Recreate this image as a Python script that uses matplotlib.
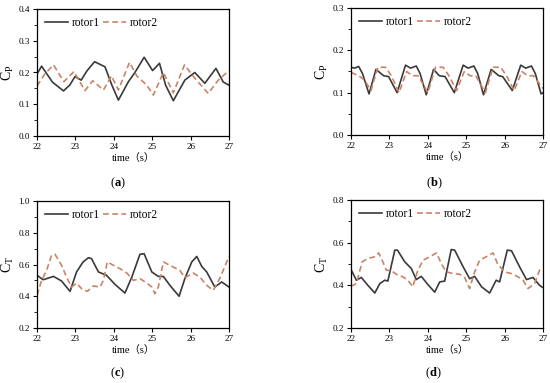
import matplotlib
matplotlib.use("Agg")
import matplotlib.pyplot as plt
from matplotlib.ticker import MultipleLocator

plt.rcParams['font.family'] = ['Liberation Serif', 'Noto Sans CJK SC']
plt.rcParams['mathtext.fontset'] = 'custom'
plt.rcParams['mathtext.rm'] = 'Liberation Serif'
plt.rcParams['mathtext.it'] = 'Liberation Serif:italic'
plt.rcParams['mathtext.bf'] = 'Liberation Serif:bold'

# ---------------- data ----------------
# (a) power coefficient, case a
a_t1 = [22.0, 22.12, 22.4, 22.69, 22.85, 22.99, 23.15, 23.3, 23.5, 23.77, 23.95, 24.12, 24.38, 24.55,
        24.79, 25.01, 25.19, 25.35, 25.55, 25.85, 26.11, 26.37, 26.66, 26.85, 27.0]
a_r1 = [0.195, 0.22, 0.17, 0.142, 0.16, 0.187, 0.176, 0.205, 0.234, 0.218, 0.16, 0.113, 0.171, 0.2,
        0.248, 0.206, 0.229, 0.16, 0.111, 0.176, 0.2, 0.166, 0.213, 0.17, 0.16]
a_t2 = [22.0, 22.2, 22.43, 22.7, 22.96, 23.25, 23.45, 23.73, 23.94, 24.12, 24.41, 24.6, 24.86, 25.03,
        25.29, 25.55, 25.84, 26.11, 26.46, 26.72, 27.0]
a_r2 = [0.157, 0.195, 0.224, 0.171, 0.203, 0.143, 0.174, 0.145, 0.189, 0.145, 0.232, 0.189, 0.16, 0.129,
        0.2, 0.136, 0.224, 0.182, 0.134, 0.176, 0.206]

# (b) power coefficient, case b
b_t1 = [22.0, 22.1, 22.2, 22.3, 22.47, 22.65, 22.85, 22.98, 23.2, 23.42, 23.55, 23.7, 23.8, 23.96,
        24.15, 24.3, 24.45, 24.69, 24.92, 25.05, 25.2, 25.3, 25.45, 25.65, 25.85, 25.95, 26.2,
        26.42, 26.55, 26.7, 26.8, 26.95, 27.0]
b_r1 = [0.16, 0.158, 0.162, 0.145, 0.097, 0.155, 0.14, 0.138, 0.1, 0.165, 0.158, 0.163, 0.145, 0.095,
        0.155, 0.14, 0.138, 0.1, 0.165, 0.158, 0.163, 0.145, 0.095, 0.155, 0.14, 0.138, 0.105,
        0.165, 0.158, 0.163, 0.145, 0.097, 0.1]
b_t2 = [22.0, 22.2, 22.35, 22.52, 22.7, 22.9, 23.05, 23.25, 23.45, 23.6, 23.75, 24.0, 24.2, 24.4,
        24.55, 24.75, 24.95, 25.1, 25.25, 25.5, 25.7, 25.9, 26.05, 26.25, 26.45, 26.6, 26.75, 27.0]
b_r2 = [0.148, 0.14, 0.13, 0.105, 0.16, 0.16, 0.14, 0.1, 0.15, 0.14, 0.14, 0.1, 0.16, 0.16,
        0.14, 0.105, 0.15, 0.14, 0.14, 0.1, 0.16, 0.16, 0.14, 0.105, 0.15, 0.14, 0.14, 0.11]

# (c) thrust coefficient, case a
c_t1 = [22.0, 22.16, 22.43, 22.64, 22.86, 23.03, 23.2, 23.34, 23.42, 23.6, 23.81, 24.03, 24.29, 24.47,
        24.68, 24.79, 24.99, 25.16, 25.29, 25.46, 25.7, 25.85, 26.03, 26.16, 26.29, 26.42, 26.63,
        26.81, 27.0]
c_r1 = [0.532, 0.504, 0.525, 0.496, 0.431, 0.553, 0.616, 0.643, 0.637, 0.553, 0.532, 0.475, 0.42, 0.521,
        0.664, 0.668, 0.553, 0.525, 0.525, 0.469, 0.4, 0.511, 0.616, 0.651, 0.588, 0.553, 0.458,
        0.49, 0.458]
c_t2 = [22.0, 22.12, 22.25, 22.38, 22.47, 22.64, 22.77, 22.9, 23.03, 23.16, 23.31, 23.47, 23.64, 23.73,
        23.83, 23.99, 24.16, 24.34, 24.51, 24.68, 24.86, 24.99, 25.07, 25.16, 25.29, 25.46, 25.72,
        25.85, 26.07, 26.24, 26.42, 26.59, 26.77, 27.0]
c_r2 = [0.406, 0.5, 0.563, 0.658, 0.664, 0.595, 0.521, 0.458, 0.483, 0.448, 0.431, 0.465, 0.458, 0.5,
        0.616, 0.595, 0.574, 0.546, 0.5, 0.511, 0.483, 0.458, 0.416, 0.458, 0.616, 0.595, 0.563,
        0.517, 0.546, 0.521, 0.469, 0.437, 0.517, 0.651]

# (d) thrust coefficient, case b
d_t1 = [22.0, 22.14, 22.27, 22.44, 22.62, 22.75, 22.88, 22.96, 23.14, 23.21, 23.4, 23.57, 23.7, 23.83,
        24.0, 24.18, 24.31, 24.44, 24.61, 24.7, 24.92, 25.09, 25.22, 25.4, 25.61, 25.78, 25.87,
        26.07, 26.18, 26.39, 26.57, 26.74, 26.91, 27.0]
d_r1 = [0.474, 0.424, 0.437, 0.4, 0.364, 0.408, 0.424, 0.42, 0.565, 0.565, 0.51, 0.479, 0.427, 0.442,
        0.404, 0.368, 0.416, 0.42, 0.568, 0.565, 0.487, 0.431, 0.442, 0.393, 0.364, 0.424, 0.416,
        0.565, 0.562, 0.487, 0.427, 0.437, 0.4, 0.389]
d_t2 = [22.0, 22.14, 22.29, 22.44, 22.62, 22.72, 22.83, 22.92, 23.05, 23.22, 23.35, 23.48, 23.61, 23.74,
        23.88, 24.05, 24.23, 24.35, 24.48, 24.66, 24.83, 24.96, 25.09, 25.22, 25.35, 25.52, 25.7,
        25.82, 26.0, 26.18, 26.35, 26.48, 26.61, 26.78, 26.91, 27.0]
d_r2 = [0.396, 0.408, 0.51, 0.526, 0.534, 0.552, 0.51, 0.471, 0.468, 0.448, 0.44, 0.424, 0.393, 0.471,
        0.518, 0.534, 0.552, 0.502, 0.463, 0.455, 0.452, 0.437, 0.385, 0.463, 0.518, 0.534, 0.552,
        0.499, 0.463, 0.455, 0.44, 0.424, 0.385, 0.408, 0.471, 0.479]

ylabels = [r'$\mathrm{C_P}$', r'$\mathrm{C_P}$', r'$\mathrm{C_T}$', r'$\mathrm{C_T}$']
panel_labels = ['a', 'b', 'c', 'd']
ylims = [(0.0, 0.4), (0.0, 0.3), (0.2, 1.0), (0.2, 0.8)]
ymajor = [0.1, 0.1, 0.2, 0.2]
xticks = [22, 23, 24, 25, 26, 27]

series = [(a_t1, a_r1, a_t2, a_r2), (b_t1, b_r1, b_t2, b_r2),
          (c_t1, c_r1, c_t2, c_r2), (d_t1, d_r1, d_t2, d_r2)]

W, H = 550, 383
fig = plt.figure(figsize=(W / 100, H / 100), dpi=100)

# axes boxes in pixels: left, top, right, bottom
boxes = [(37, 9, 229, 136), (351, 8, 543, 135), (37, 201, 229, 328), (351, 200, 543, 328)]
label_pos = [(118, 183), (434, 183), (118, 373), (433, 373)]

c1 = '#3a3a3a'
c2 = '#c98468'

for i, (l, t, r, b) in enumerate(boxes):
    ax = fig.add_axes([l / W, 1 - b / H, (r - l) / W, (b - t) / H])
    t1, r1, t2, r2 = series[i]
    ax.plot(t1, r1, color=c1, lw=1.2, label='rotor1')
    ax.plot(t2, r2, color=c2, lw=1.2, ls=(0, (3.5, 2)), label='rotor2')
    ax.set_xlim(22, 27)
    ax.set_ylim(*ylims[i])
    ax.set_xticks(xticks)
    ax.yaxis.set_major_locator(MultipleLocator(ymajor[i]))
    ax.yaxis.set_minor_locator(MultipleLocator(ymajor[i] / 2))
    ax.tick_params(axis='both', which='major', direction='out', length=3, width=0.8,
                   labelsize=6.6, pad=2)
    ax.tick_params(axis='y', which='minor', direction='out', length=2, width=0.6)
    for s in ax.spines.values():
        s.set_linewidth(0.9)
    ax.set_ylabel(ylabels[i], fontsize=10, labelpad=2)
    ax.set_xlabel('time（s）', fontsize=7.5, labelpad=1.5)
    ax.legend(loc='upper left', ncol=2, frameon=False, fontsize=8.3,
              handlelength=2.0, columnspacing=0.2, handletextpad=0.35,
              borderaxespad=0.3, bbox_to_anchor=(0.0, 1.0))
    lx, ly = label_pos[i]
    fig.text(lx / W, 1 - ly / H, '(' + r'$\mathbf{' + panel_labels[i] + '}$' + ')',
             fontsize=9, ha='center', va='center')

fig.savefig('out.png', dpi=100)
